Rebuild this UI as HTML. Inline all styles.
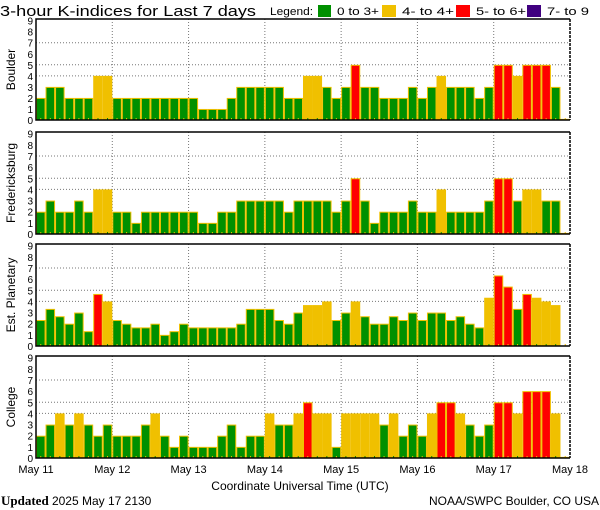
<!DOCTYPE html>
<html><head><meta charset="utf-8"><style>
html,body{margin:0;padding:0;background:#fff}
svg{display:block;font-family:"Liberation Sans",sans-serif}
</style></head><body>
<svg id="chart" width="600" height="510" viewBox="0 0 600 510">
<text x="0" y="16" font-size="15" textLength="256" lengthAdjust="spacingAndGlyphs">3-hour K-indices for Last 7 days</text>
<g font-size="11">
<text x="270" y="15" textLength="43" lengthAdjust="spacingAndGlyphs">Legend:</text>
<rect x="318" y="5" width="13" height="12" fill="#009000"/>
<text x="337" y="15" textLength="42" lengthAdjust="spacingAndGlyphs">0 to 3+</text>
<rect x="382" y="5" width="14" height="12" fill="#f0c000"/>
<text x="402" y="15" textLength="52" lengthAdjust="spacingAndGlyphs">4- to 4+</text>
<rect x="456" y="5" width="14" height="12" fill="#ff0000"/>
<text x="476" y="15" textLength="50" lengthAdjust="spacingAndGlyphs">5- to 6+</text>
<rect x="527" y="5" width="14" height="12" fill="#400080"/>
<text x="547" y="15" textLength="42" lengthAdjust="spacingAndGlyphs">7- to 9</text>
</g>
<g id="panels"></g>
<g id="xaxis" font-size="11"></g>
<text x="300" y="490" font-size="12" text-anchor="middle">Coordinate Universal Time (UTC)</text>
<text x="1" y="505" font-size="13" font-family="Liberation Serif, serif"><tspan font-weight="bold">Updated</tspan> <tspan font-family="Liberation Sans, sans-serif" font-size="12">2025 May 17 2130</tspan></text>
<text x="599" y="505" font-size="12" text-anchor="end">NOAA/SWPC Boulder, CO USA</text>
</svg>
<script>
const stations = ["Boulder","Fredericksburg","Est. Planetary","College"];
const boulder = [2,3,3,2,2,2,4,4, 2,2,2,2,2,2,2,2, 2,1,1,1,2,3,3,3, 3,3,2,2,4,4,3,2, 3,5,3,3,2,2,2,3, 2,3,4,3,3,3,2,3, 5,5,4,5,5,5,3,0.1];
const fredericksburg = [2,3,2,2,3,2,4,4, 2,2,1,2,2,2,2,2, 2,1,1,2,2,3,3,3, 3,3,2,3,3,3,3,2, 3,5,3,1,2,2,2,3, 2,2,4,2,2,2,2,3, 5,5,3,4,4,3,3,0.1];
const planetary = [2.33,3.33,2.67,2,3,1.33,4.67,4, 2.33,2,1.67,1.67,2,1,1.33,2, 1.67,1.67,1.67,1.67,1.67,2,3.33,3.33, 3.33,2.33,2,3,3.67,3.67,4,2.33, 3,4,2.67,2,2,2.67,2.33,3, 2.33,3,3,2.33,2.67,2,1.67,4.33, 6.33,5.33,3.33,4.67,4.33,4,3.67,0];
const college = [2,3,4,3,4,3,2,3, 2,2,2,3,4,2,1,2, 1,1,1,2,3,1,2,2, 4,3,3,4,5,4,4,1, 4,4,4,4,3,4,2,3, 2,4,5,5,4,3,2,3, 5,5,4,6,6,6,4,0.1];
const series = [boulder,fredericksburg,planetary,college];
const dayLabels = ["May 11","May 12","May 13","May 14","May 15","May 16","May 17","May 18"];
const yTicks = [0,1,2,3,4,5,6,7,8,9];
const gridLevels = [4,5,7];

const NS="http://www.w3.org/2000/svg";
const X0=36, X1=570, NB=56;
const tops=[19,132,244,356], bottoms=[120,234,346,458];
const bw=(X1-X0)/NB;
function xScale(i){return X0+i*bw;}
function mk(tag,attrs,parent){const e=document.createElementNS(NS,tag);for(const k in attrs)e.setAttribute(k,attrs[k]);parent.appendChild(e);return e;}
function color(v){return v<3.5?"#009000":v<4.5?"#f0c000":v<6.5?"#ff0000":"#400080";}
const panels=document.getElementById("panels");
stations.forEach((name,p)=>{
  const top=tops[p], bot=bottoms[p], h=bot-top;
  const y=v=>bot-v*(h/9.15);
  const g=mk("g",{},panels);
  
  
  mk("rect",{x:X0,y:top,width:X1-X0,height:h,fill:"#fff"},g);
  gridLevels.forEach(l=>{const ln=mk("line",{x1:X0,x2:X1,y1:y(l),y2:y(l),stroke:"#777","stroke-dasharray":"1 2"},g);
    
    });
  for(let d=1;d<7;d++){const x=xScale(d*8);const ln=mk("line",{x1:x,x2:x,y1:top,y2:bot,stroke:"#777","stroke-dasharray":"1 2"},g);
    
    }
  series[p].forEach((v,i)=>{
    if(v>0){const r=mk("rect",{x:xScale(i)+0.5,y:y(v)+0.5,width:bw-1,height:bot-y(v)-0.5,fill:color(v),stroke:"#f0c000","stroke-width":1},g);
      
      }
    const t=mk("rect",{x:xScale(i)+bw/2-0.5,y:bot-2,width:1,height:2,fill:color(v)=="#f0c000"?"#009000":"#f0c000"},g);
    
    
  });
  const fr=mk("path",{d:`M${X1},${bot}L${X0},${bot}L${X0},${top}L${X1},${top}`,fill:"none",stroke:"#000","stroke-width":1.5},g);
  
  
  const rb=mk("line",{x1:X1,x2:X1,y1:top,y2:bot,stroke:"#000","stroke-width":1.5,"stroke-dasharray":"3 1"},g);
  
  
  yTicks.forEach(t=>{const tx=mk("text",{x:33,y:y(t)+4,"font-size":"10","text-anchor":"end"},g);tx.textContent=t;
    
    });
  const lab=mk("text",{x:0,y:0,"font-size":"12","text-anchor":"middle",transform:`translate(15,${(top+bot)/2}) rotate(-90)`},g);
  lab.textContent=name;
  
  
});
const xa=document.getElementById("xaxis");
dayLabels.forEach((d,i)=>{const t=mk("text",{x:xScale(i*8),y:473,"text-anchor":"middle"},xa);t.textContent=d;
  
  });
</script>
</body></html>
